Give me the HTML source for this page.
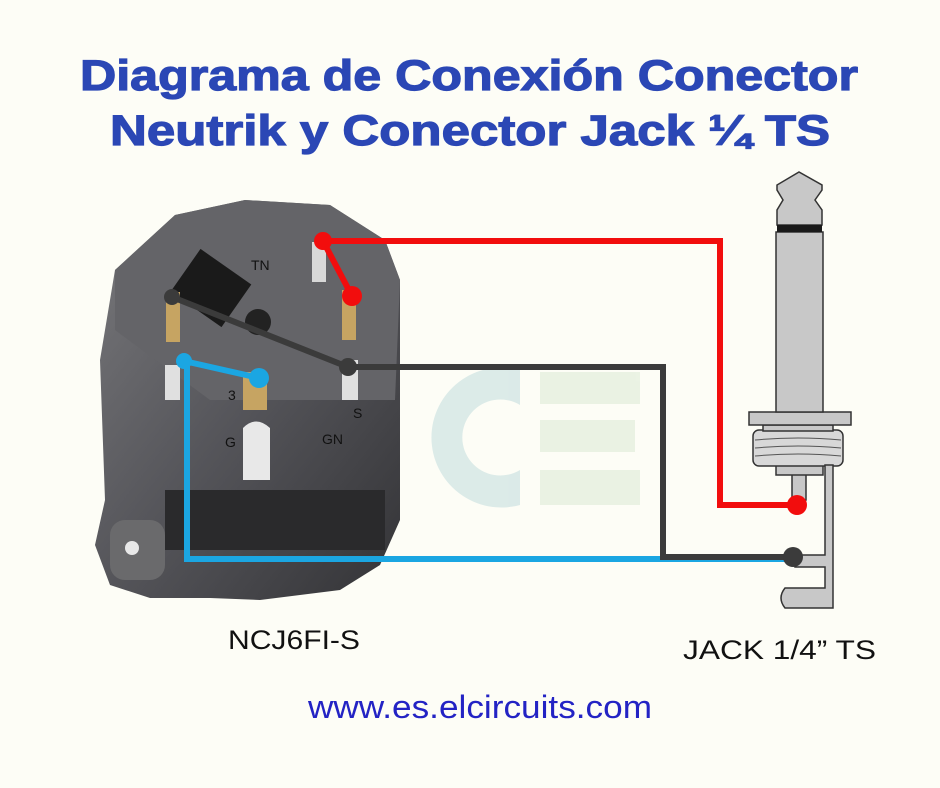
<!DOCTYPE html>
<html><head><meta charset="utf-8"><style>
html,body{margin:0;padding:0;background:#fdfdf6;}
svg{display:block;}
</style></head><body>
<svg width="940" height="788" viewBox="0 0 940 788" xmlns="http://www.w3.org/2000/svg">
<rect width="940" height="788" fill="#fdfdf6"/>
<text x="80" y="90" textLength="778" lengthAdjust="spacingAndGlyphs" font-family="Liberation Sans, sans-serif" font-weight="bold" font-size="43" fill="#2b47b5" stroke="#2b47b5" stroke-width="1.2">Diagrama de Conexión Conector</text>
<text x="110" y="145" textLength="720" lengthAdjust="spacingAndGlyphs" font-family="Liberation Sans, sans-serif" font-weight="bold" font-size="43" fill="#2b47b5" stroke="#2b47b5" stroke-width="1.2">Neutrik y Conector Jack ¼ TS</text>

<g opacity="0.35">
<path d="M520 370 A70 70 0 1 0 520 505 L520 470 A38 38 0 1 1 520 405 Z" fill="#9fc9cf"/>
<rect x="540" y="372" width="100" height="32" fill="#c9dfc2"/>
<rect x="540" y="420" width="95" height="32" fill="#c9dfc2"/>
<rect x="540" y="470" width="100" height="35" fill="#c9dfc2"/>
</g>

<defs>
<linearGradient id="bg" x1="0" y1="0" x2="1" y2="1">
<stop offset="0" stop-color="#79797c"/><stop offset="0.5" stop-color="#55555a"/><stop offset="1" stop-color="#333336"/>
</linearGradient>
</defs>
<path d="M115 270 L175 215 L245 200 L330 205 L385 240 L400 280 L400 520 L380 565 L340 590 L260 600 L210 598 L150 598 L110 585 L95 545 L105 500 L100 360 Z" fill="url(#bg)"/>
<path d="M115 270 L175 215 L245 200 L330 205 L385 240 L400 280 L395 400 L210 400 L115 330 Z" fill="#646468"/>
<rect x="180" y="262" width="62" height="52" fill="#1a1a1a" transform="rotate(35 211 288)"/>
<circle cx="258" cy="322" r="13" fill="#222"/>
<rect x="165" y="490" width="220" height="60" fill="#2a2a2c"/>
<rect x="110" y="520" width="55" height="60" rx="15" fill="#6a6a6c"/>
<circle cx="132" cy="548" r="7" fill="#e8e8e8"/>
<rect x="166" y="292" width="14" height="50" fill="#c6a462"/>
<rect x="342" y="290" width="14" height="50" fill="#c6a462"/>
<rect x="312" y="242" width="14" height="40" fill="#d8d8d8"/>
<rect x="342" y="360" width="16" height="40" fill="#e0e0e0"/>
<rect x="165" y="365" width="15" height="35" fill="#e0e0e0"/>
<rect x="243" y="372" width="24" height="38" fill="#c6a462"/>
<path d="M243 480 L243 428 Q256 415 270 428 L270 480 Z" fill="#e8e8e8"/>
<g font-family="Liberation Sans, sans-serif" font-size="14" fill="#111">
<text x="251" y="270">TN</text><text x="353" y="418">S</text><text x="322" y="444">GN</text><text x="225" y="447">G</text><text x="228" y="400">3</text>
</g>

<g fill="none" stroke-width="6" stroke-linejoin="miter">
<polyline points="187,361 187,559 795,559" stroke="#1ba6e2"/>
<polyline points="259,378 184,361" stroke="#1ba6e2"/>
<polyline points="172,297 348,367 663,367 663,557 793,557" stroke="#3b3b3b"/>
<polyline points="352,296 323,241 720,241 720,505 797,505" stroke="#f20d0d"/>
</g>
<circle cx="184" cy="361" r="8" fill="#1ba6e2"/>
<circle cx="259" cy="378" r="10" fill="#1ba6e2"/>
<circle cx="172" cy="297" r="8" fill="#3b3b3b"/>
<circle cx="348" cy="367" r="9" fill="#3b3b3b"/>
<circle cx="323" cy="241" r="9" fill="#f20d0d"/>
<circle cx="352" cy="296" r="10" fill="#f20d0d"/>

<g stroke="#333" stroke-width="1.5" fill="#c8c8c8">
<path d="M792 473 L792 500 L806 500 L806 473 Z"/>
<rect x="776" y="463" width="47" height="12"/>
<rect x="753" y="430" width="90" height="36" rx="6" fill="#d8d8d8"/>
<rect x="763" y="425" width="70" height="6"/>
<rect x="749" y="412" width="102" height="13"/>
<rect x="776" y="232" width="47" height="180"/>
<path d="M777 225 L777 210 L783 200 L777 190 L777 185 L799 172 L822 185 L822 190 L815 200 L822 210 L822 225 Z"/>
<path d="M825 465 L833 465 L833 608 L785 608 Q777 598 785 588 L825 588 L825 567 L795 567 L795 555 L825 555 Z"/>
</g>
<g stroke="#555" stroke-width="1" fill="none">
<path d="M755 440 Q798 436 841 440 M755 448 Q798 444 841 448 M755 456 Q798 452 841 456"/>
</g>
<rect x="777" y="225" width="45" height="7" fill="#1a1a1a"/>
<circle cx="797" cy="505" r="10" fill="#f20d0d"/>
<circle cx="793" cy="557" r="10" fill="#3b3b3b"/>

<g font-family="Liberation Sans, sans-serif" font-size="27" fill="#111">
<text x="228" y="649" textLength="132" lengthAdjust="spacingAndGlyphs">NCJ6FI-S</text>
<text x="683" y="659" textLength="193" lengthAdjust="spacingAndGlyphs">JACK 1/4” TS</text>
</g>
<text x="308" y="718" textLength="344" lengthAdjust="spacingAndGlyphs" font-family="Liberation Sans, sans-serif" font-size="32" fill="#2323c4">www.es.elcircuits.com</text>
</svg>
</body></html>
